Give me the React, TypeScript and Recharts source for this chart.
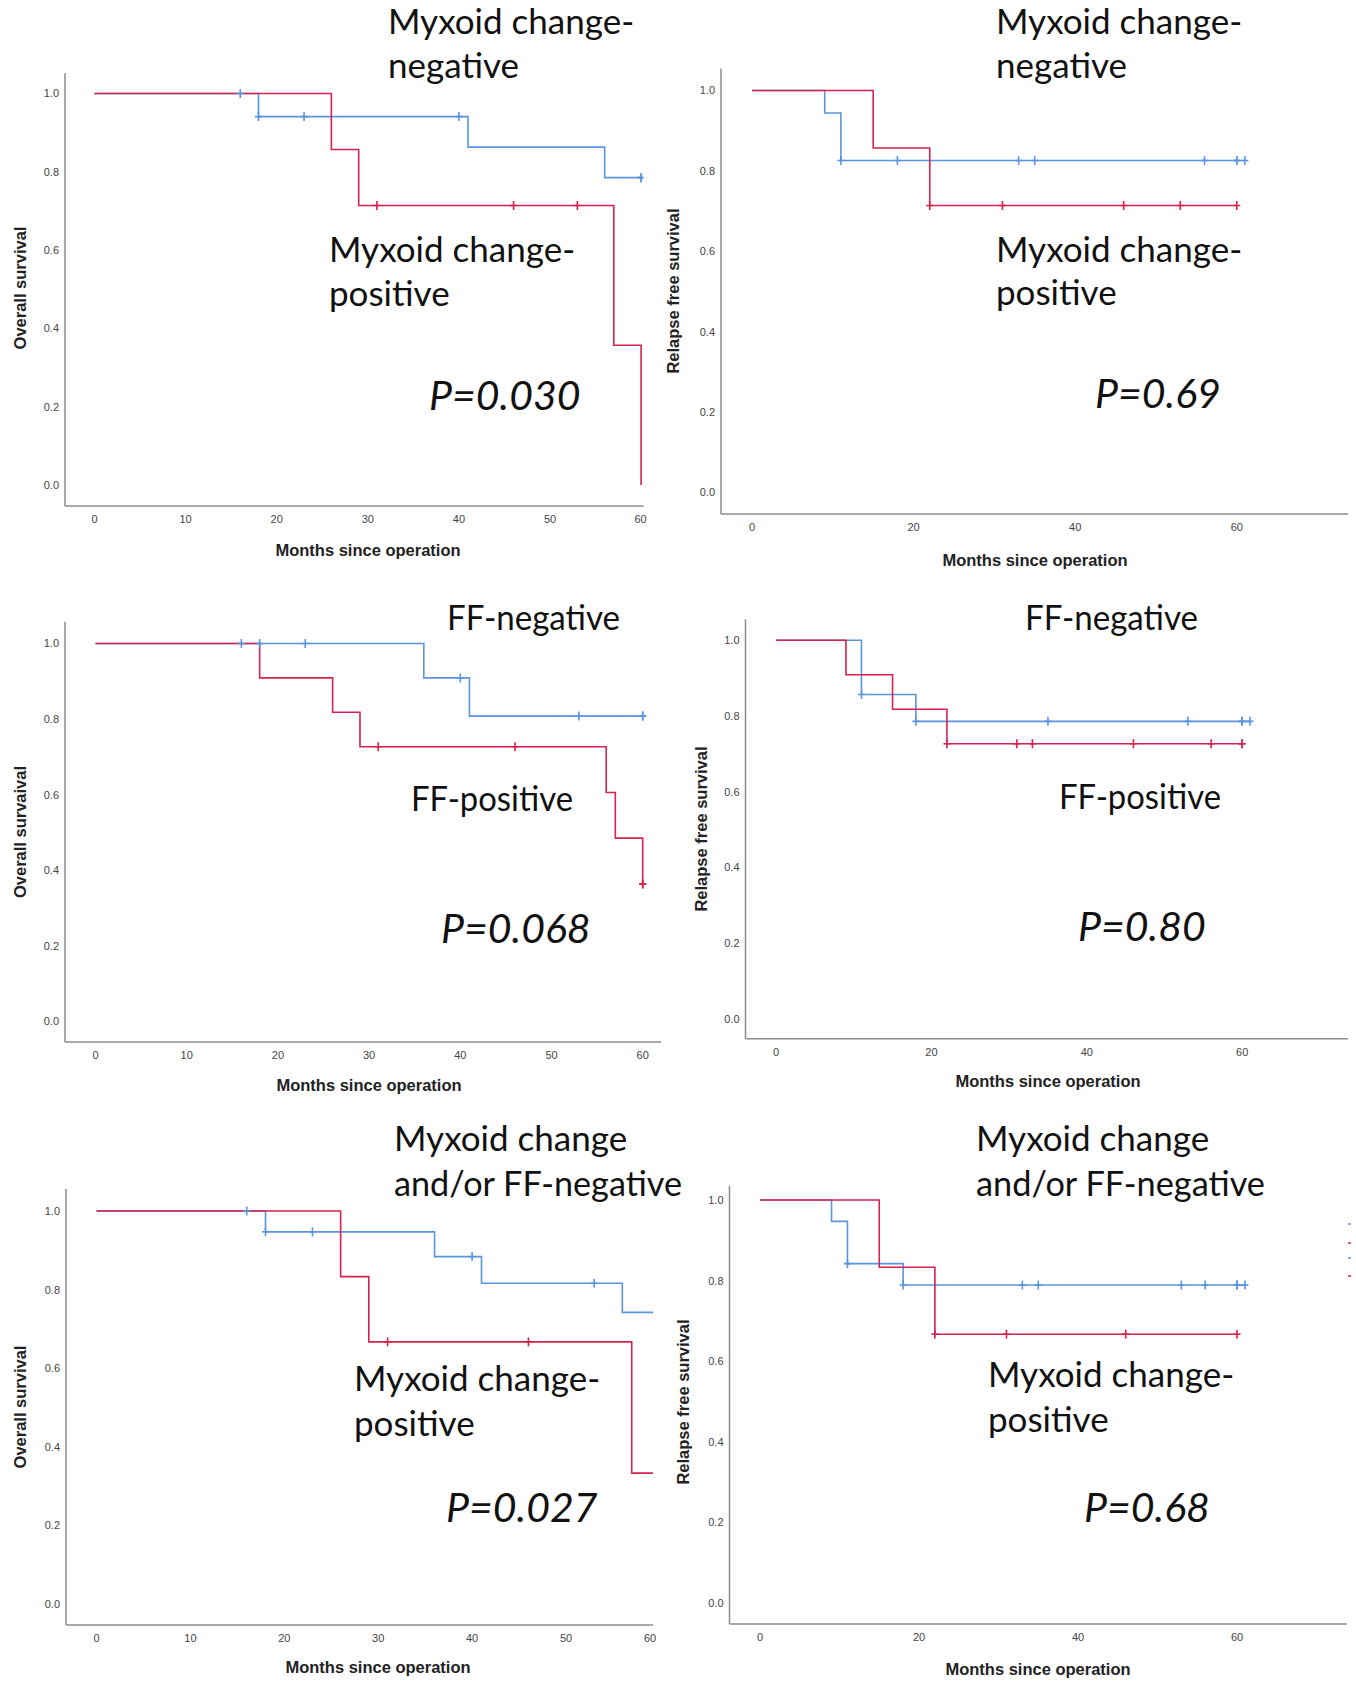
import React from 'react';
import { ComposedChart, Line, Scatter, XAxis, YAxis } from 'recharts';

type Step = [number, number];

const BLUE = '#5b95de';
const RED = '#d6224f';
const AXIS = '#8c8c8c';
const TICK = '#444';

// Kaplan-Meier curves: [month, survival] at each drop, last entry closes the line
// censor arrays are the months where a "+" sits on the curve

// Overall survival, myxoid change
const osMyxNeg: Step[] = [[0, 1], [18, 0.941], [41, 0.863], [56, 0.785], [60, 0.785]];
const osMyxNegCens = [16, 18, 23, 40, 60, 60];
const osMyxPos: Step[] = [[0, 1], [26, 0.857], [29, 0.714], [57, 0.357], [60, 0]];
const osMyxPosCens = [31, 46, 53];

// Relapse free survival, myxoid change
const rfsMyxNeg: Step[] = [[0, 1], [9, 0.944], [11, 0.826], [61, 0.826]];
const rfsMyxNegCens = [11, 18, 33, 35, 56, 60, 60, 61];
const rfsMyxPos: Step[] = [[0, 1], [15, 0.857], [22, 0.714], [60, 0.714]];
const rfsMyxPosCens = [22, 31, 46, 53, 60];

// Overall survival, FF
const osFfNeg: Step[] = [[0, 1], [36, 0.909], [41, 0.808], [60, 0.808]];
const osFfNegCens = [16, 18, 23, 40, 53, 60, 60];
const osFfPos: Step[] = [[0, 1], [18, 0.909], [26, 0.818], [29, 0.727], [56, 0.606], [57, 0.485], [60, 0.364]];
const osFfPosCens = [31, 46, 60, 60];

// Relapse free survival, FF
const rfsFfNeg: Step[] = [[0, 1], [11, 0.857], [18, 0.786], [61, 0.786]];
const rfsFfNegCens = [11, 18, 35, 53, 60, 60, 61];
const rfsFfPos: Step[] = [[0, 1], [9, 0.909], [15, 0.818], [22, 0.727], [60, 0.727]];
const rfsFfPosCens = [22, 31, 33, 46, 56, 60, 60];

// Overall survival, myxoid change and/or FF
const osAnyNeg: Step[] = [[0, 1], [18, 0.947], [36, 0.884], [41, 0.816], [56, 0.742], [60, 0.742]];
const osAnyNegCens = [16, 18, 23, 40, 53, 60];
const osAnyPos: Step[] = [[0, 1], [26, 0.833], [29, 0.667], [57, 0.333], [60, 0.333]];
const osAnyPosCens = [31, 46];

// Relapse free survival, myxoid change and/or FF
const rfsAnyNeg: Step[] = [[0, 1], [9, 0.947], [11, 0.842], [18, 0.789], [61, 0.789]];
const rfsAnyNegCens = [11, 18, 33, 35, 53, 56, 60, 60, 61];
const rfsAnyPos: Step[] = [[0, 1], [15, 0.833], [22, 0.667], [60, 0.667]];
const rfsAnyPosCens = [22, 31, 46, 60];

const osTicks = [0, 10, 20, 30, 40, 50, 60];
const rfsTicks = [0, 20, 40, 60];
const yTicks = [0, 0.2, 0.4, 0.6, 0.8, 1.0];

const toPoints = (steps: Step[]) => steps.map(([t, s]) => ({ t, s }));

const survivalAt = (steps: Step[], t: number) => {
  let s = 1;
  for (const [st, sv] of steps) if (st <= t) s = sv;
  return s;
};

const censorPoints = (steps: Step[], cens: number[]) =>
  cens.map((t) => ({ t, s: survivalAt(steps, t) }));

const censorShape = (color: string) => (p: any) => (
  <g stroke={color} strokeWidth={1.6}>
    <line x1={p.cx} x2={p.cx} y1={p.cy - 4.5} y2={p.cy + 4.5} />
    <line x1={p.cx - 3.5} x2={p.cx + 3.5} y1={p.cy} y2={p.cy} />
  </g>
);

interface Layout {
  box: [number, number, number, number]; // svg left, top, width, height
  plot: [number, number, number, number]; // plot left, top, right, bottom
  y1: number; // pixel row of survival 1.0
  y0: number; // pixel row of survival 0.0
  x0: number; // pixel column of month 0
  ppm: number; // px per month
}

function KMPanel(props: {
  layout: Layout;
  xTicks: number[];
  neg: Step[];
  negCens: number[];
  pos: Step[];
  posCens: number[];
}) {
  const { layout, xTicks, neg, negCens, pos, posCens } = props;
  const [sx, sy, sw, sh] = layout.box;
  const [pl, pt, pr, pb] = layout.plot;
  const unit = layout.y0 - layout.y1;
  const yDomain = [-(pb - layout.y0) / unit, 1 + (layout.y1 - pt) / unit];
  const xDomain = [(pl - layout.x0) / layout.ppm, (pr - layout.x0) / layout.ppm];
  const maxX = pr - sx - 3;

  return (
    <div style={{ position: 'absolute', left: sx, top: sy }}>
      <ComposedChart
        width={sw}
        height={sh}
        margin={{ top: pt - sy, right: sx + sw - pr, bottom: 0, left: 0 }}
      >
        <XAxis
          type="number"
          dataKey="t"
          domain={xDomain}
          ticks={xTicks}
          interval={0}
          allowDataOverflow
          height={sy + sh - pb}
          tickLine={false}
          tickSize={0}
          tickMargin={9}
          axisLine={{ stroke: AXIS, strokeWidth: 1.5 }}
          tick={(p: any) => (
            <text
              x={Math.min(p.x, maxX)}
              y={p.y}
              dy="0.71em"
              textAnchor="middle"
              fontSize={11}
              fill={TICK}
              fontFamily="Liberation Sans, Arial, sans-serif"
            >
              {p.payload.value}
            </text>
          )}
        />
        <YAxis
          type="number"
          dataKey="s"
          domain={yDomain}
          ticks={yTicks}
          interval={0}
          allowDataOverflow
          width={pl - sx}
          tickLine={false}
          tickSize={0}
          tickMargin={6}
          axisLine={{ stroke: AXIS, strokeWidth: 1.5 }}
          tickFormatter={(v: number) => v.toFixed(1)}
          tick={{ fontSize: 11, fill: TICK, fontFamily: 'Liberation Sans, Arial, sans-serif' }}
        />
        <Line
          data={toPoints(neg)}
          dataKey="s"
          type="stepAfter"
          stroke={BLUE}
          strokeWidth={1.6}
          dot={false}
          activeDot={false}
          isAnimationActive={false}
        />
        <Scatter
          data={censorPoints(neg, negCens)}
          dataKey="s"
          shape={censorShape(BLUE)}
          isAnimationActive={false}
        />
        <Line
          data={toPoints(pos)}
          dataKey="s"
          type="stepAfter"
          stroke={RED}
          strokeWidth={1.6}
          dot={false}
          activeDot={false}
          isAnimationActive={false}
        />
        <Scatter
          data={censorPoints(pos, posCens)}
          dataKey="s"
          shape={censorShape(RED)}
          isAnimationActive={false}
        />
      </ComposedChart>
    </div>
  );
}

const layouts: Record<string, Layout> = {
  osMyx: { box: [0, 60, 665, 510], plot: [65, 73, 643.5, 506], y1: 93.5, y0: 485, x0: 94.5, ppm: 9.11 },
  rfsMyx: { box: [670, 60, 686, 520], plot: [721, 68.5, 1348, 514], y1: 90.5, y0: 492.5, x0: 752, ppm: 8.08 },
  osFf: { box: [0, 600, 680, 500], plot: [65, 621.7, 661, 1042], y1: 643.5, y0: 1021.5, x0: 95.5, ppm: 9.12 },
  rfsFf: { box: [680, 600, 676, 500], plot: [745.5, 619.3, 1348, 1038.7], y1: 640.3, y0: 1019, x0: 776, ppm: 7.77 },
  osAny: { box: [0, 1150, 680, 532], plot: [66, 1189, 653, 1625], y1: 1211, y0: 1604, x0: 96.5, ppm: 9.39 },
  rfsAny: { box: [680, 1150, 676, 532], plot: [729.5, 1186, 1347, 1624], y1: 1200, y0: 1603, x0: 760, ppm: 7.95 },
};

const NOTE_FONT = 'Lato, "Open Sans", sans-serif';
const AXIS_FONT = '"Liberation Sans", Arial, sans-serif';

const notes: { x: number; y: number; text: string; italic?: boolean; w?: number }[] = [
  { x: 388, y: 34, text: 'Myxoid change-' },
  { x: 388, y: 78, text: 'negative' },
  { x: 329, y: 262, text: 'Myxoid change-' },
  { x: 329, y: 306, text: 'positive' },
  { x: 429, y: 410, text: 'P=0.030', italic: true },

  { x: 996, y: 34, text: 'Myxoid change-' },
  { x: 996, y: 78, text: 'negative' },
  { x: 996, y: 262, text: 'Myxoid change-' },
  { x: 996, y: 305, text: 'positive' },
  { x: 1095, y: 408, text: 'P=0.69', italic: true },

  { x: 447, y: 630, text: 'FF-negative', w: 173 },
  { x: 411, y: 811, text: 'FF-positive', w: 162 },
  { x: 441, y: 943, text: 'P=0.068', italic: true },

  { x: 1025, y: 630, text: 'FF-negative', w: 173 },
  { x: 1059, y: 809, text: 'FF-positive', w: 162 },
  { x: 1078, y: 941, text: 'P=0.80', italic: true },

  { x: 394, y: 1151, text: 'Myxoid change' },
  { x: 394, y: 1196, text: 'and/or FF-negative', w: 288 },
  { x: 354, y: 1391, text: 'Myxoid change-' },
  { x: 354, y: 1436, text: 'positive' },
  { x: 446, y: 1522, text: 'P=0.027', italic: true },

  { x: 976, y: 1151, text: 'Myxoid change' },
  { x: 976, y: 1196, text: 'and/or FF-negative', w: 289 },
  { x: 988, y: 1387, text: 'Myxoid change-' },
  { x: 988, y: 1432, text: 'positive' },
  { x: 1084, y: 1522, text: 'P=0.68', italic: true },
];

const xTitles = [
  { x: 368, y: 556 },
  { x: 1035, y: 566 },
  { x: 369, y: 1091 },
  { x: 1048, y: 1087 },
  { x: 378, y: 1673 },
  { x: 1038, y: 1675 },
];

const yTitles = [
  { x: 19.5, y: 288, text: 'Overall survival' },
  { x: 673, y: 291, text: 'Relapse free survival' },
  { x: 19.5, y: 832, text: 'Overall survaival' },
  { x: 701, y: 829, text: 'Relapse free survival' },
  { x: 19.5, y: 1407, text: 'Overall survival' },
  { x: 683, y: 1402, text: 'Relapse free survival' },
];

// bits of a cropped legend at the right edge of the last panel
const legendBits = [
  { y: 1224, color: BLUE },
  { y: 1243, color: RED },
  { y: 1258, color: BLUE },
  { y: 1276, color: RED },
];

export default function App() {
  return (
    <div
      style={{
        position: 'absolute',
        left: 0,
        top: 0,
        width: 1356,
        height: 1682,
        background: '#fff',
        overflow: 'hidden',
      }}
    >
      <KMPanel layout={layouts.osMyx} xTicks={osTicks} neg={osMyxNeg} negCens={osMyxNegCens} pos={osMyxPos} posCens={osMyxPosCens} />
      <KMPanel layout={layouts.rfsMyx} xTicks={rfsTicks} neg={rfsMyxNeg} negCens={rfsMyxNegCens} pos={rfsMyxPos} posCens={rfsMyxPosCens} />
      <KMPanel layout={layouts.osFf} xTicks={osTicks} neg={osFfNeg} negCens={osFfNegCens} pos={osFfPos} posCens={osFfPosCens} />
      <KMPanel layout={layouts.rfsFf} xTicks={rfsTicks} neg={rfsFfNeg} negCens={rfsFfNegCens} pos={rfsFfPos} posCens={rfsFfPosCens} />
      <KMPanel layout={layouts.osAny} xTicks={osTicks} neg={osAnyNeg} negCens={osAnyNegCens} pos={osAnyPos} posCens={osAnyPosCens} />
      <KMPanel layout={layouts.rfsAny} xTicks={rfsTicks} neg={rfsAnyNeg} negCens={rfsAnyNegCens} pos={rfsAnyPos} posCens={rfsAnyPosCens} />

      <svg
        width={1356}
        height={1682}
        style={{ position: 'absolute', left: 0, top: 0, pointerEvents: 'none' }}
      >
        {xTitles.map((t, i) => (
          <text key={`xt-${i}`} x={t.x} y={t.y} textAnchor="middle" fontFamily={AXIS_FONT} fontWeight="bold" fontSize={16.5} fill="#222">
            Months since operation
          </text>
        ))}
        {yTitles.map((t, i) => (
          <text
            key={`yt-${i}`}
            x={t.x}
            y={t.y}
            transform={`rotate(-90 ${t.x} ${t.y})`}
            textAnchor="middle"
            dominantBaseline="central"
            fontFamily={AXIS_FONT}
            fontWeight="bold"
            fontSize={16.5}
            fill="#222"
          >
            {t.text}
          </text>
        ))}
        {notes.map((n, i) => (
          <text
            key={`n-${i}`}
            x={n.x}
            y={n.y}
            fontFamily={NOTE_FONT}
            fontSize={n.italic ? 41 : 35}
            fontStyle={n.italic ? 'italic' : 'normal'}
            fill="#111"
            textLength={n.w}
            lengthAdjust={n.w ? 'spacingAndGlyphs' : undefined}
          >
            {n.text}
          </text>
        ))}
        {legendBits.map((b, i) => (
          <line key={`lb-${i}`} x1={1348} x2={1351} y1={b.y} y2={b.y} stroke={b.color} strokeWidth={1.5} />
        ))}
      </svg>
    </div>
  );
}
